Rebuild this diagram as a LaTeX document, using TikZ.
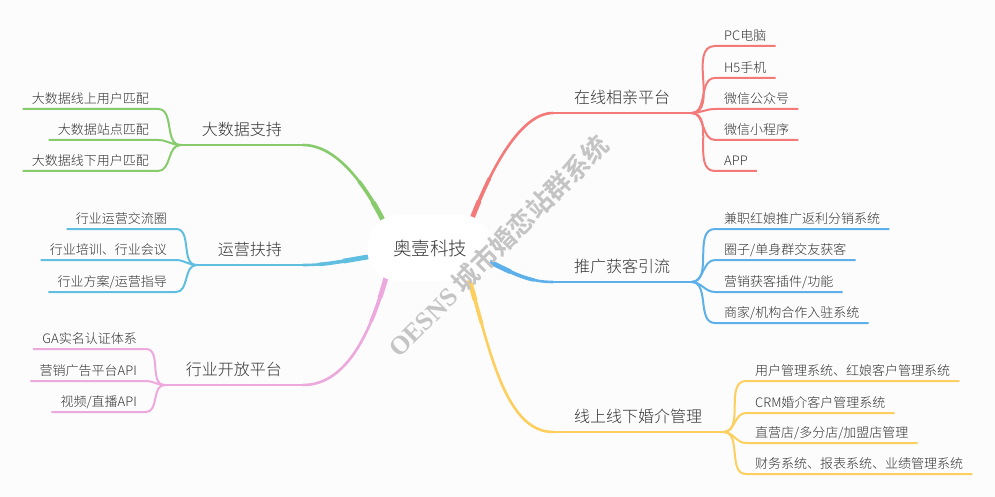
\documentclass[tikz,border=0pt]{standalone}
\usepackage{fontspec}
\setmainfont{Noto Sans CJK SC}[UprightFont={* Light},BoldFont={* Bold}]
\newfontfamily\marklatin{Liberation Serif}
\usetikzlibrary{positioning,calc,backgrounds}
\definecolor{bgpaper}{HTML}{FCFCFC}
\definecolor{inkgray}{HTML}{333333}
\definecolor{markgray}{HTML}{C4C4C4}
\definecolor{redline}{HTML}{F47A7A}
\definecolor{azureline}{HTML}{5DB0EA}
\definecolor{yellowline}{HTML}{FCCF5F}
\definecolor{greenline}{HTML}{88CB6C}
\definecolor{cyanline}{HTML}{60BFE1}
\definecolor{pinkline}{HTML}{EDA9DD}
\tikzset{
  my hub/.style={
    fill=white,
    rounded corners=30pt,
    minimum width=124pt,
    minimum height=66pt,
    text=inkgray,
    font=\fontsize{18.5}{20}\selectfont
  },
  my branch/.style={
    inner xsep=21pt,
    inner ysep=9pt,
    text height=12pt,
    text depth=0pt,
    text=inkgray,
    font=\fontsize{16}{18}\selectfont
  },
  my leaf/.style={
    inner xsep=9pt,
    inner ysep=5pt,
    text height=10pt,
    text depth=0pt,
    text=inkgray,
    font=\fontsize{13}{15}\selectfont
  },
  my twig/.style={line width=2pt},
  my stem/.style={line width=2.6pt}
}
% thick root curve that thins out towards the branch label
\newcommand{\limb}[4]{%
  \draw[#1,line width=2.6pt] #2 .. controls #3 .. (#4);
  \begin{scope}
    \clip #2 circle (50pt);
    \draw[#1,line width=3.6pt] #2 .. controls #3 .. (#4);
  \end{scope}
  \begin{scope}
    \clip #2 circle (25pt);
    \draw[#1,line width=4.8pt] #2 .. controls #3 .. (#4);
  \end{scope}}

\begin{document}
\begin{tikzpicture}[x=1pt,y=-1pt]
\useasboundingbox (0,0) rectangle (995,497);
\begin{scope}[on background layer]
\fill[bgpaper] (0,0) rectangle (995,497);
\end{scope}

\node[my hub] (hub) at (430,248) {奥壹科技};

% right side
\node[my branch,anchor=south west] (online) at (553,113) {在线相亲平台};
\node[my branch,anchor=south west] (promo) at (553,282) {推广获客引流};
\node[my branch,anchor=south west] (agency) at (553,432) {线上线下婚介管理};

\node[my leaf,anchor=south west] (pc) at (715,46) {PC电脑};
\node[my leaf,anchor=south west] (hfive) at (715,78) {H5手机};
\node[my leaf,anchor=south west] (wxpub) at (715,109) {微信公众号};
\node[my leaf,anchor=south west] (wxmini) at (715,140) {微信小程序};
\node[my leaf,anchor=south west] (app) at (715,171) {APP};

\node[my leaf,anchor=south west] (matchmaker) at (715,229) {兼职红娘推广返利分销系统};
\node[my leaf,anchor=south west] (circle) at (715,260) {圈子/单身群交友获客};
\node[my leaf,anchor=south west] (plugin) at (715,292) {营销获客插件/功能};
\node[my leaf,anchor=south west] (merchant) at (715,323) {商家/机构合作入驻系统};

\node[my leaf,anchor=south west] (users) at (746,381) {用户管理系统、红娘客户管理系统};
\node[my leaf,anchor=south west] (crm) at (746,413) {CRM婚介客户管理系统};
\node[my leaf,anchor=south west] (stores) at (746,443) {直营店/多分店/加盟店管理};
\node[my leaf,anchor=south west] (finance) at (746,474) {财务系统、报表系统、业绩管理系统};

% left side
\node[my branch,anchor=south east] (bigdata) at (303,145) {大数据支持};
\node[my branch,anchor=south east] (ops) at (303,265) {运营扶持};
\node[my branch,anchor=south east] (openplat) at (303,385) {行业开放平台};

\node[my leaf,anchor=south east] (bdonline) at (158,109) {大数据线上用户匹配};
\node[my leaf,anchor=south east] (bdsite) at (158,140) {大数据站点匹配};
\node[my leaf,anchor=south east] (bdoffline) at (158,171) {大数据线下用户匹配};

\node[my leaf,anchor=south east] (opscircle) at (176,229) {行业运营交流圈};
\node[my leaf,anchor=south east] (opstrain) at (176,260) {行业培训、行业会议};
\node[my leaf,anchor=south east] (opsguide) at (176,292) {行业方案/运营指导};

\node[my leaf,anchor=south east] (ga) at (146,349) {GA实名认证体系};
\node[my leaf,anchor=south east] (adapi) at (146,381) {营销广告平台API};
\node[my leaf,anchor=south east] (liveapi) at (146,412) {视频/直播API};

\begin{scope}[on background layer]
\limb{redline}{($(hub)+(40,-24)$)}{+(17,-46) and +(-35,0)}{online.south west}
\limb{azureline}{($(hub)+(58,13)$)}{+(25,12) and +(-25,0)}{promo.south west}
\limb{yellowline}{($(hub)+(38,28)$)}{+(20,64) and +(-50,0)}{agency.south west}
\limb{greenline}{($(hub)+(-45,-24)$)}{+(-18,-36) and +(35,0)}{bigdata.south east}
\limb{cyanline}{($(hub)+(-62,9)$)}{+(-26,4) and +(25,0)}{ops.south east}
\limb{pinkline}{($(hub)+(-43,26)$)}{+(-15,55) and +(45,0)}{openplat.south east}

\draw[my stem,redline] (online.south west) -- (online.south east);
\draw[my stem,azureline] (promo.south west) -- (promo.south east);
\draw[my stem,yellowline] (agency.south west) -- (agency.south east);
\draw[my stem,greenline] (bigdata.south east) -- (bigdata.south west);
\draw[my stem,cyanline] (ops.south east) -- (ops.south west);
\draw[my stem,pinkline] (openplat.south east) -- (openplat.south west);

\draw[my twig,redline] (online.south east) to[out=0,in=180] (pc.south west) -- (pc.south east);
\draw[my twig,redline] (online.south east) to[out=0,in=180] (hfive.south west) -- (hfive.south east);
\draw[my twig,redline] (online.south east) to[out=0,in=180] (wxpub.south west) -- (wxpub.south east);
\draw[my twig,redline] (online.south east) to[out=0,in=180] (wxmini.south west) -- (wxmini.south east);
\draw[my twig,redline] (online.south east) to[out=0,in=180] (app.south west) -- (app.south east);

\draw[my twig,azureline] (promo.south east) to[out=0,in=180] (matchmaker.south west) -- (matchmaker.south east);
\draw[my twig,azureline] (promo.south east) to[out=0,in=180] (circle.south west) -- (circle.south east);
\draw[my twig,azureline] (promo.south east) to[out=0,in=180] (plugin.south west) -- (plugin.south east);
\draw[my twig,azureline] (promo.south east) to[out=0,in=180] (merchant.south west) -- (merchant.south east);

\draw[my twig,yellowline] (agency.south east) to[out=0,in=180] (users.south west) -- (users.south east);
\draw[my twig,yellowline] (agency.south east) to[out=0,in=180] (crm.south west) -- (crm.south east);
\draw[my twig,yellowline] (agency.south east) to[out=0,in=180] (stores.south west) -- (stores.south east);
\draw[my twig,yellowline] (agency.south east) to[out=0,in=180] (finance.south west) -- (finance.south east);

\draw[my twig,greenline] (bigdata.south west) to[out=180,in=0] (bdonline.south east) -- (bdonline.south west);
\draw[my twig,greenline] (bigdata.south west) to[out=180,in=0] (bdsite.south east) -- (bdsite.south west);
\draw[my twig,greenline] (bigdata.south west) to[out=180,in=0] (bdoffline.south east) -- (bdoffline.south west);

\draw[my twig,cyanline] (ops.south west) to[out=180,in=0] (opscircle.south east) -- (opscircle.south west);
\draw[my twig,cyanline] (ops.south west) to[out=180,in=0] (opstrain.south east) -- (opstrain.south west);
\draw[my twig,cyanline] (ops.south west) to[out=180,in=0] (opsguide.south east) -- (opsguide.south west);

\draw[my twig,pinkline] (openplat.south west) to[out=180,in=0] (ga.south east) -- (ga.south west);
\draw[my twig,pinkline] (openplat.south west) to[out=180,in=0] (adapi.south east) -- (adapi.south west);
\draw[my twig,pinkline] (openplat.south west) to[out=180,in=0] (liveapi.south east) -- (liveapi.south west);
\end{scope}

% watermark
\node[rotate=45,text=markgray,font=\fontsize{26}{28}\selectfont\bfseries] (mark) at (498,246) {{\marklatin OESNS} 城市婚恋站群系统};
\end{tikzpicture}
\end{document}
